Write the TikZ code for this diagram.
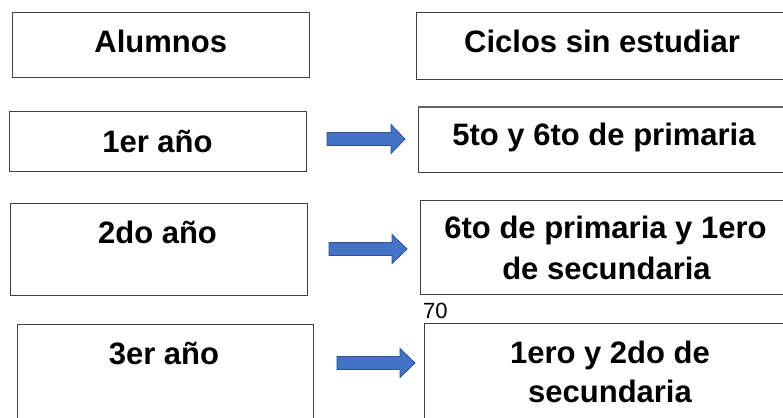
\documentclass[tikz,border=0pt]{standalone}
\usepackage{fontspec}
\setmainfont{Liberation Sans}
\definecolor{arrfill}{HTML}{4472C4}
\definecolor{arrline}{HTML}{2F528F}
\definecolor{boxline}{HTML}{404040}
\tikzset{
  boxnode/.style={draw=boxline, line width=1pt, rectangle, inner sep=0pt, outer sep=0pt},
  lbl/.style={font=\bfseries\fontsize{31}{40}\selectfont, inner sep=0pt, anchor=base, text=black},
  small/.style={font=\fontsize{22}{26}\selectfont, inner sep=0pt, anchor=base west, text=black},
  blockarr/.style={fill=arrfill, draw=arrline, line width=0.8pt, line join=miter}
}
% #1 name, #2 x start, #3 head start, #4 tip x, #5 centre y
\newcommand{\blkarrow}[5]{%
  \path[blockarr] (#2,#5-6.5) -- (#3,#5-6.5) -- (#3,#5-14.5) -- (#4,#5) -- (#3,#5+14.5) -- (#3,#5+6.5) -- (#2,#5+6.5) -- cycle;
  \coordinate (#1) at (#4,#5);
}
\begin{document}
\begin{tikzpicture}[x=1pt,y=-1pt]
\useasboundingbox (0,0) rectangle (783,417);
\clip (0,0) rectangle (783,417);
\fill[white] (0,0) rectangle (783,417);
% boxes
\node[boxnode, minimum width=297pt, minimum height=65pt, anchor=north west] (A) at (12,13) {};
\node[boxnode, minimum width=384pt, minimum height=67pt, anchor=north west] (C) at (416,13) {};
\node[boxnode, minimum width=297pt, minimum height=60pt, anchor=north west] (B1) at (9,111) {};
\node[boxnode, minimum width=382pt, minimum height=65pt, anchor=north west] (R1) at (418,107) {};
\node[boxnode, minimum width=297pt, minimum height=92pt, anchor=north west] (B2) at (10,203) {};
\node[boxnode, minimum width=380pt, minimum height=94pt, anchor=north west] (R2) at (420,200) {};
\node[boxnode, minimum width=296pt, minimum height=110pt, anchor=north west] (B3) at (17,324) {};
\node[boxnode, minimum width=376pt, minimum height=110pt, anchor=north west] (R3) at (424,323) {};
\draw[boxline!80, line width=1.8pt] (R1.north west) -- (R1.north east);
% texts
\node[lbl] (tA) at (160.8,53) {Alumnos};
\node[lbl] (tC) at (602,53) {Ciclos sin estudiar};
\node[lbl] (t1) at (157.5,152) {1er año};
\node[lbl] (tR1) at (604,145) {5to y 6to de primaria};
\node[lbl] (t2) at (157.5,243) {2do año};
\node[lbl] (tR2a) at (605.5,238) {6to de primaria y 1ero};
\node[lbl] (tR2b) at (606.5,279) {de secundaria};
\node[lbl] (t3) at (164,364) {3er año};
\node[lbl] (tR3a) at (610,363) {1ero y 2do de};
\node[lbl] (tR3b) at (610,402) {secundaria};
\node[small] (n70) at (423,318) {70};
% block arrows
\blkarrow{a1}{327}{391}{405}{139}
\blkarrow{a2}{329}{392}{407}{249}
\blkarrow{a3}{337}{400}{415}{363}
\end{tikzpicture}
\end{document}
